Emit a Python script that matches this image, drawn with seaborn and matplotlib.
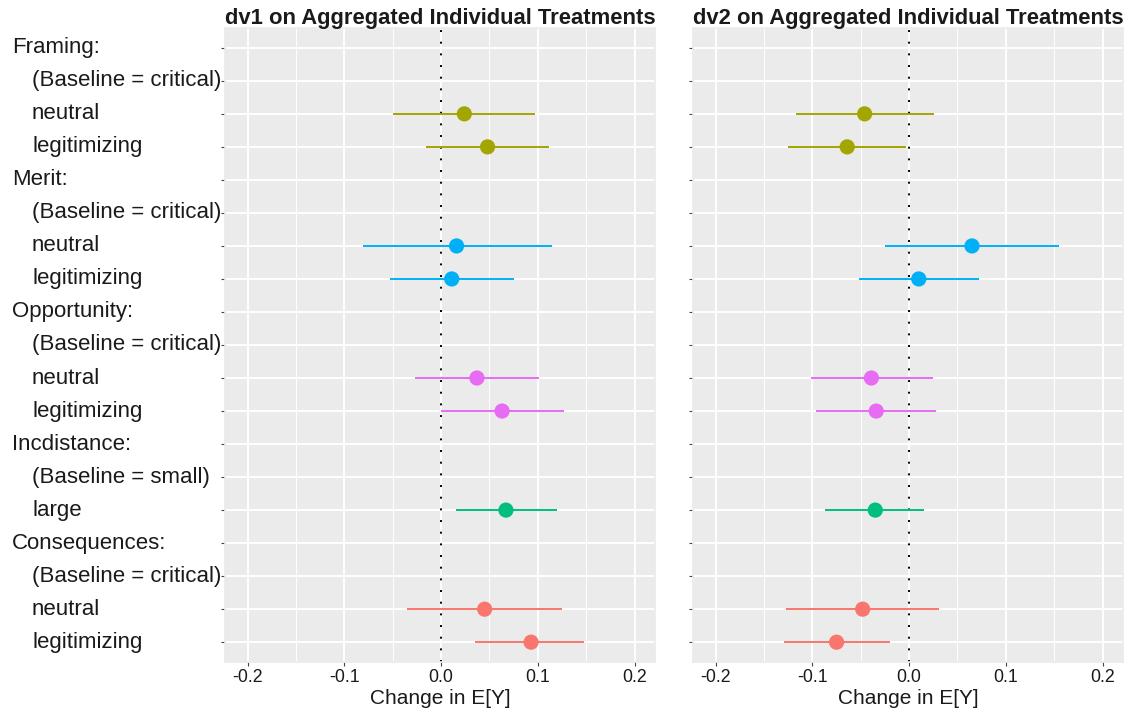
import matplotlib
matplotlib.use("Agg")
import matplotlib.pyplot as plt
import matplotlib.transforms as mtransforms
from matplotlib.ticker import MultipleLocator
import numpy as np
import pandas as pd
import seaborn as sns

# treatment groups, their baselines and estimated levels
groups = ["Framing", "Merit", "Opportunity", "Incdistance", "Consequences"]
baselines = ["critical", "critical", "critical", "small", "critical"]
levels = [["neutral", "legitimizing"],
          ["neutral", "legitimizing"],
          ["neutral", "legitimizing"],
          ["large"],
          ["neutral", "legitimizing"]]
group_colors = ["#A3A500", "#00B0F6", "#E76BF3", "#00BF7D", "#F8766D"]

# estimates in the order of the levels above
dv1_est = [0.024, 0.048, 0.016, 0.011, 0.037, 0.063, 0.067, 0.045, 0.093]
dv1_lo = [-0.050, -0.016, -0.081, -0.053, -0.027, 0.000, 0.015, -0.035, 0.035]
dv1_hi = [0.097, 0.112, 0.115, 0.075, 0.101, 0.127, 0.120, 0.125, 0.148]

dv2_est = [-0.046, -0.064, 0.065, 0.010, -0.039, -0.034, -0.035, -0.048, -0.075]
dv2_lo = [-0.117, -0.125, -0.025, -0.052, -0.101, -0.096, -0.087, -0.127, -0.129]
dv2_hi = [0.026, -0.003, 0.155, 0.072, 0.025, 0.028, 0.015, 0.031, -0.020]

titles = ["dv1 on Aggregated Individual Treatments",
          "dv2 on Aggregated Individual Treatments"]

# build row table (header, baseline, levels)
row_labels, row_indent, data_rows = [], [], []
for g, b, lv in zip(groups, baselines, levels):
    row_labels.append(g + ":")
    row_indent.append(False)
    row_labels.append("(Baseline = %s)" % b)
    row_indent.append(True)
    for l in lv:
        data_rows.append((g, len(row_labels)))
        row_labels.append(l)
        row_indent.append(True)


def make_df(est, lo, hi):
    return pd.DataFrame({
        "group": [r[0] for r in data_rows],
        "row": [r[1] for r in data_rows],
        "est": est, "lo": lo, "hi": hi,
    })


sns.set_theme(style="darkgrid", rc={
    "axes.facecolor": "#EBEBEB",
    "grid.color": "white",
    "axes.edgecolor": "#EBEBEB",
})
plt.rcParams["font.family"] = ["Liberation Sans", "DejaVu Sans"]

fig = plt.figure(figsize=(11.39, 7.2), dpi=100)
W, H = 1139, 720
panels = [(225, 655), (693, 1123)]
top, bottom = 28, 662
palette = dict(zip(groups, group_colors))

for i, (df, (x0, x1)) in enumerate(zip([make_df(dv1_est, dv1_lo, dv1_hi),
                                        make_df(dv2_est, dv2_lo, dv2_hi)], panels)):
    ax = fig.add_axes([x0 / W, 1 - bottom / H, (x1 - x0) / W, (bottom - top) / H])
    ax.set_xlim(-0.2234, 0.2211)
    ax.set_ylim(len(row_labels) - 0.4, -0.6)
    ax.xaxis.set_major_locator(MultipleLocator(0.1))
    ax.xaxis.set_minor_locator(MultipleLocator(0.05))
    ax.grid(which="major", color="white", linewidth=1.4)
    ax.grid(which="minor", axis="x", color="white", linewidth=0.7)
    ax.set_axisbelow(True)
    ax.set_yticks(range(len(row_labels)))
    ax.set_yticklabels([])
    ax.tick_params(axis="both", which="major", left=True, bottom=True, length=3,
                   width=0.8, color="#444444", direction="out", labelsize=12.8,
                   labelcolor="#1a1a1a", pad=2)
    ax.tick_params(axis="x", which="minor", length=0)
    ax.set_xticks([-0.2, -0.1, 0.0, 0.1, 0.2])
    ax.set_xticklabels(["-0.2", "-0.1", "0.0", "0.1", "0.2"])

    ax.axvline(0, color="black", linestyle=(0, (1, 5)), linewidth=1.4, zorder=2)
    for _, r in df.iterrows():
        ax.hlines(r["row"], r["lo"], r["hi"], color=palette[r["group"]], linewidth=1.4, zorder=3)
    sns.scatterplot(data=df, x="est", y="row", hue="group", palette=palette,
                    s=120, edgecolor="none", legend=False, ax=ax, zorder=4)
    ax.set_ylabel("")
    ax.set_xlabel("Change in E[Y]", fontsize=15, color="#1a1a1a", labelpad=2)
    ax.set_title(titles[i], fontsize=15.8, fontweight="bold", pad=3, color="#1a1a1a")

    if i == 0:
        trans = mtransforms.blended_transform_factory(fig.transFigure, ax.transData)
        for j, (lab, ind) in enumerate(zip(row_labels, row_indent)):
            x = (32 if ind else 12) / W
            ax.text(x, j, lab, transform=trans, ha="left", va="center",
                    fontsize=16, color="#1a1a1a")

fig.savefig("out.png", dpi=100)
